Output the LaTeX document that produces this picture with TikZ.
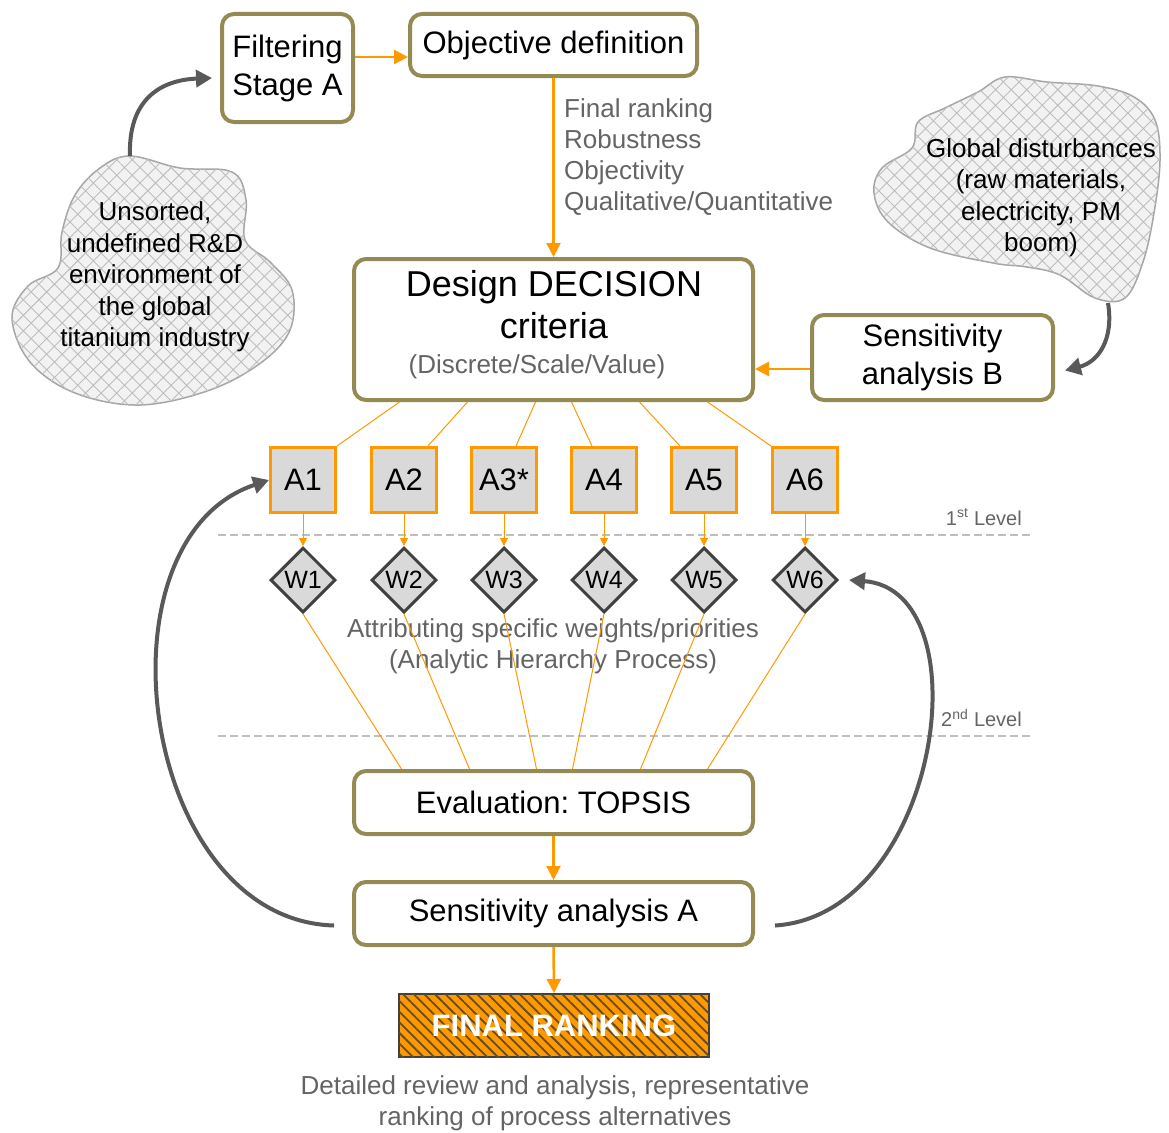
\documentclass[tikz,border=0pt]{standalone}
\usepackage{fontspec}
\setmainfont{Liberation Sans}
\usetikzlibrary{arrows.meta,patterns.meta,shapes.geometric,calc}
\definecolor{olive}{RGB}{148,138,84}
\definecolor{orng}{RGB}{255,153,0}
\definecolor{dgray}{RGB}{89,89,89}
\definecolor{tgray}{RGB}{100,100,100}
\definecolor{lgray}{RGB}{217,217,217}
\definecolor{dline}{RGB}{191,191,191}
\definecolor{bdark}{RGB}{64,64,64}
\definecolor{cloudbg}{RGB}{242,242,242}
\definecolor{cloudln}{RGB}{190,190,190}
\definecolor{cloudbd}{RGB}{166,166,166}
\definecolor{stripe}{RGB}{100,75,35}
\newcommand\fs[2]{\fontsize{#1}{#2}\selectfont}
\frenchspacing
\tikzset{
  stagebox/.style={draw=olive, line width=4pt, rounded corners=12pt, fill=white, align=center, inner sep=0pt, font=\fs{31}{38}},
  altbox/.style={draw=orng, line width=3pt, fill=lgray, minimum width=65pt, minimum height=65pt, inner sep=0pt, font=\fs{31}{36}},
  wdiam/.style={diamond, draw=bdark, line width=3pt, fill=lgray, minimum width=65pt, minimum height=65pt, inner sep=0pt, font=\fs{25}{28}},
  graytext/.style={text=tgray, align=center, inner sep=0pt, font=\fs{26}{31.3}},
  cloudtext/.style={text=black, align=center, inner sep=0pt, font=\fs{26}{31.5}},
  cloudshape/.style={draw=cloudbd, line width=1.5pt, fill=cloudbg, postaction={pattern={Hatch[angle=45,distance=11pt,line width=0.9pt]}, pattern color=cloudln}},
  bigarrow/.style={draw=orng, line width=2.5pt, -{Triangle[length=14pt,width=14pt]}},
  smallarrow/.style={draw=orng, line width=1pt, -{Triangle[length=8pt,width=8pt]}},
  thinline/.style={draw=orng, line width=1pt},
  loop/.style={draw=dgray, line width=4pt, -{Triangle[length=16pt,width=17pt]}},
  levelline/.style={draw=dline, line width=2.5pt, dash pattern=on 8pt off 4pt},
  leveltext/.style={text=tgray, inner sep=0pt, font=\fs{20}{24}},
}
\begin{document}
\begin{tikzpicture}[x=1pt,y=-1pt]
\useasboundingbox (0,0) rectangle (1169,1132);

% clouds
\draw[cloudshape] plot[smooth cycle, tension=0.6] coordinates {
  (130,156) (180,168) (232,172) (246,200) (245,240) (270,262) (292,290)
  (290,330) (262,362) (210,390) (140,405) (75,393) (30,362) (12,318)
  (28,286) (58,268) (62,232) (75,195) (100,168)};
\draw[cloudshape] plot[smooth cycle, tension=0.6] coordinates {
  (1005,77) (1047,82) (1098,86) (1134,97) (1155,120) (1160,160) (1154,213)
  (1143,262) (1125,298) (1095,298) (1060,275) (1027,267) (993,263) (930,248)
  (888,222) (874,193) (882,168) (912,148) (918,122) (945,108) (978,92)};
\coordinate (lcloud) at (130,156);
\coordinate (rcloud) at (1108,303);
\node[cloudtext] (lct) at (155,277) {Unsorted,\\undefined R\&D\\environment of\\the global\\titanium industry};
\node[cloudtext] (rct) at (1041,198) {Global disturbances\\(raw materials,\\electricity, PM\\boom)};

% main boxes
\node[stagebox, minimum width=131pt, minimum height=108pt] (filt) at (287.5,68) {Filtering\\Stage A};
\node[stagebox, minimum width=287pt, minimum height=62pt] (obj) at (553.5,45) {Objective definition};
\node[stagebox, minimum width=399pt, minimum height=141pt] (des) at (553.5,329.5) {};
\node[inner sep=0pt, align=center, font=\fs{36}{42}] (destxt) at (554,305) {Design DECISION\\criteria};
\node[graytext] (destxt2) at (537,367) {(Discrete/Scale/Value)};
\node[stagebox, minimum width=241pt, minimum height=85pt] (sensB) at (932.5,357.5) {Sensitivity\\analysis B};
\node[stagebox, minimum width=399pt, minimum height=63pt] (eval) at (553.5,802.5) {Evaluation: TOPSIS};
\node[stagebox, minimum width=399pt, minimum height=63pt] (sensA) at (553.5,913.5) {Sensitivity analysis A};
\node[draw=bdark, line width=2pt, fill=orng, minimum width=310pt, minimum height=63pt, inner sep=0pt,
      postaction={pattern={Lines[angle=-45,distance=7.5pt,line width=1.8pt]}, pattern color=stripe}] (fin) at (554,1025.5) {};
\node[text=white, font=\bfseries\fs{31}{36}, inner sep=0pt] (fintxt) at (fin) {FINAL RANKING};

% texts
\node[graytext, align=left, anchor=west, font=\fs{26}{31.3}] (crit) at (564,157) {Final ranking\\Robustness\\Objectivity\\Qualitative/Quantitative};
\node[graytext] (ahp) at (553,646) {Attributing specific weights/priorities\\(Analytic Hierarchy Process)};
\node[graytext] (rev) at (555,1103.5) {Detailed review and analysis, representative\\ranking of process alternatives};

% alternatives and weights
\foreach \i/\x/\t in {1/303/A1, 2/404/A2, 3/504/A3*, 4/604/A4, 5/704/A5, 6/805/A6} {
  \node[altbox] (A\i) at (\x,480) {\t};
  \node[wdiam] (W\i) at (\x,580) {W\i};
}

% level lines
\coordinate (l1a) at (218,535); \coordinate (l1b) at (1032,535);
\coordinate (l2a) at (218,736); \coordinate (l2b) at (1032,736);
\draw[levelline] (l1a) -- (l1b);
\draw[levelline] (l2a) -- (l2b);
\node[leveltext, anchor=east] (lev1) at (1022,517) {1\textsuperscript{st} Level};
\node[leveltext, anchor=east] (lev2) at (1022,718) {2\textsuperscript{nd} Level};

% connectors
\coordinate (fo) at (0,57);
\draw[bigarrow] (filt.east |- fo) -- (obj.west |- fo);
\draw[bigarrow] (obj.south) -- (des.north);
\draw[bigarrow] (sensB.west |- 0,369) -- (des.east |- 0,369);
\draw[bigarrow] (eval.south) -- (sensA.north);
\draw[bigarrow] (sensA.south) -- (fin.north);

\draw[thinline] ($(des.south)+(-154,0)$) -- (A1.north east);
\draw[thinline] ($(des.south)+(-86,0)$) -- ($(A2.north)+(24,0)$);
\draw[thinline] ($(des.south)+(-18,0)$) -- ($(A3.north)+(12,0)$);
\draw[thinline] ($(des.south)+(18,0)$) -- ($(A4.north)+(-12,0)$);
\draw[thinline] ($(des.south)+(86,0)$) -- ($(A5.north)+(-24,0)$);
\draw[thinline] ($(des.south)+(154,0)$) -- (A6.north west);

\foreach \i in {1,...,6} { \draw[smallarrow] (A\i.south) -- (W\i.north); }

\draw[thinline] (W1.south) -- ($(eval.north)+(-152,0)$);
\draw[thinline] (W2.south) -- ($(eval.north)+(-84,0)$);
\draw[thinline] (W3.south) -- ($(eval.north)+(-17,0)$);
\draw[thinline] (W4.south) -- ($(eval.north)+(19,0)$);
\draw[thinline] (W5.south) -- ($(eval.north)+(87,0)$);
\draw[thinline] (W6.south) -- ($(eval.north)+(154,0)$);

% gray loop arrows
\draw[loop] (lcloud) .. controls (128,100) and (160,80) .. ($(filt.west)+(-8,10)$);
\draw[loop] (rcloud) .. controls (1114,340) and (1098,362) .. ($(sensB.east)+(10,13)$);
\draw[loop] ($(sensA.west)+(-18,12)$) .. controls (140,920) and (90,540) .. (A1.west);
\draw[loop] ($(sensA.east)+(20,12)$) .. controls (940,915) and (985,590) .. ($(W6.east)+(10,0)$);
\end{tikzpicture}
\end{document}
